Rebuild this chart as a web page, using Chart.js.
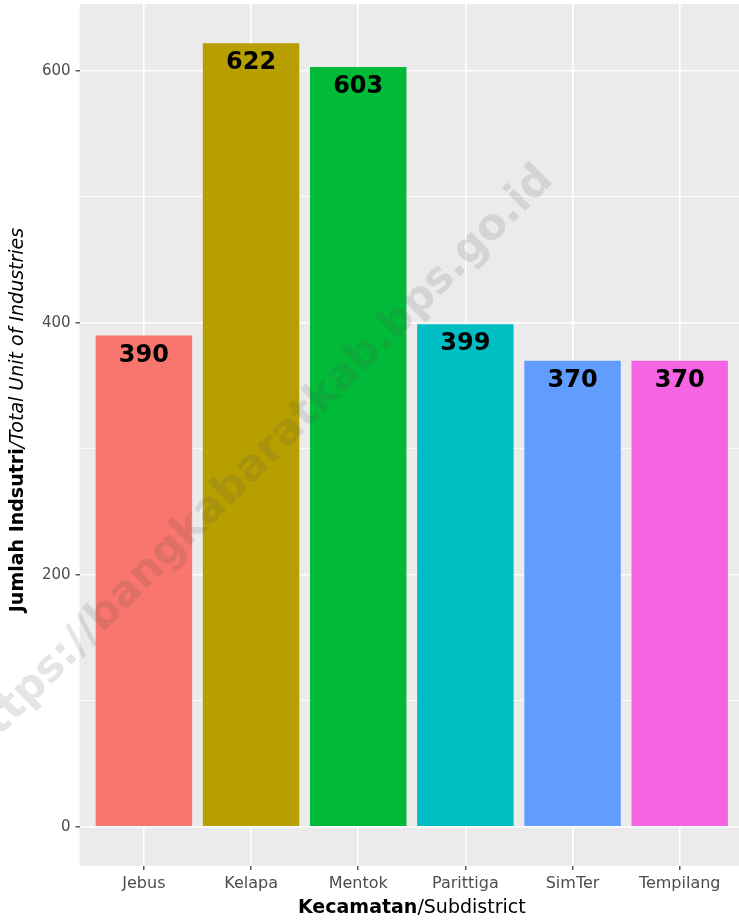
<!DOCTYPE html>
<html>
<head>
<meta charset="utf-8">
<script src="https://cdn.jsdelivr.net/npm/chart.js@4"></script>
<style>
  html, body { margin: 0; padding: 0; background: #fff; overflow: hidden; }
  #wrap { width: 750px; height: 921px; }
</style>
</head>
<body>
<div id="wrap"><canvas id="chart1" width="750" height="921"></canvas></div>
<script>
    var categories = ['Jebus', 'Kelapa', 'Mentok', 'Parittiga', 'SimTer', 'Tempilang'];
    var values = [390, 622, 603, 399, 370, 370];
    var barColors = ['#F8766D', '#B79F00', '#00BA38', '#00BFC4', '#619CFF', '#F564E3'];
    var yTicks = [0, 100, 200, 300, 400, 500, 600];
    var yLabelTicks = [0, 200, 400, 600];

    var xTitleBold = 'Kecamatan';
    var xTitleRest = '/Subdistrict';
    var yTitleBold = 'Jumlah Indsutri';
    var yTitleRest = '/Total Unit of Industries';
    var watermark = 'https://bangkabaratkab.bps.go.id';

    var font = '"DejaVu Sans", sans-serif';

    // ggplot style extras: grey panel, labels inside bars, axis titles, watermark
    var ggPlugin = {
      id: 'gg',
      beforeDraw: function (chart) {
        var a = chart.chartArea, ctx = chart.ctx;
        ctx.save();
        ctx.fillStyle = '#EBEBEB';
        ctx.fillRect(a.left, a.top, a.right - a.left, a.bottom - a.top);
        ctx.restore();
      },
      afterDatasetsDraw: function (chart) {
        var ctx = chart.ctx;
        var meta = chart.getDatasetMeta(0);
        ctx.save();
        ctx.fillStyle = '#000';
        ctx.font = 'bold 24px ' + font;
        ctx.textAlign = 'center';
        ctx.textBaseline = 'middle';
        meta.data.forEach(function (bar, i) {
          ctx.fillText(String(values[i]), bar.x, bar.y + 20);
        });
        ctx.restore();
      },
      afterDraw: function (chart) {
        var a = chart.chartArea, ctx = chart.ctx;
        ctx.save();
        ctx.fillStyle = '#000';
        ctx.textBaseline = 'middle';

        // x title
        ctx.font = 'bold 19px ' + font;
        var w1 = ctx.measureText(xTitleBold).width;
        ctx.font = '19px ' + font;
        var w2 = ctx.measureText(xTitleRest).width;
        var cx = (a.left + a.right) / 2;
        var x0 = cx - (w1 + w2) / 2;
        ctx.textAlign = 'left';
        ctx.font = 'bold 19px ' + font;
        ctx.fillText(xTitleBold, x0, 908);
        ctx.font = '19px ' + font;
        ctx.fillText(xTitleRest, x0 + w1, 908);

        // y title
        ctx.save();
        ctx.translate(18, 420);
        ctx.rotate(-Math.PI / 2);
        ctx.font = 'bold 19px ' + font;
        w1 = ctx.measureText(yTitleBold).width;
        ctx.font = 'italic 19px ' + font;
        w2 = ctx.measureText(yTitleRest).width;
        x0 = -(w1 + w2) / 2;
        ctx.font = 'bold 19px ' + font;
        ctx.fillText(yTitleBold, x0, 0);
        ctx.font = 'italic 19px ' + font;
        ctx.fillText(yTitleRest, x0 + w1, 0);
        ctx.restore();

        // watermark
        ctx.translate(258, 462);
        ctx.rotate(-Math.PI / 4);
        ctx.font = 'bold 43px ' + font;
        ctx.textAlign = 'center';
        ctx.fillStyle = 'rgba(80,80,80,0.15)';
        ctx.fillText(watermark, 0, 0);
        ctx.restore();
      }
    };

    var chartData = {
      datasets: [
        {
          data: values.map(function (v, i) { return { x: i, y: v }; }),
          backgroundColor: barColors,
          borderWidth: 0,
          barPercentage: 0.9,
          categoryPercentage: 1.0
        }
      ]
    };

    var chartOptions = {
      responsive: false,
      animation: false,
      devicePixelRatio: 1,
      layout: { padding: { top: 4, right: 6, left: 0, bottom: 0 } },
      plugins: {
        legend: { display: false },
        tooltip: { enabled: false }
      },
      scales: {
        x: {
          type: 'linear',
          min: -0.6,
          max: 5.6,
          offset: false,
          afterBuildTicks: function (scale) {
            scale.ticks = categories.map(function (c, i) { return { value: i }; });
          },
          afterFit: function (scale) {
            scale.height = 55;
            scale.paddingLeft = 0;
            scale.paddingRight = 0;
          },
          border: { display: false },
          grid: {
            offset: false,
            color: '#FFFFFF',
            lineWidth: 1.6,
            tickColor: '#333333',
            tickLength: 4,
            tickWidth: 1.2
          },
          ticks: {
            autoSkip: false,
            maxRotation: 0,
            padding: 4,
            color: '#4D4D4D',
            font: { family: font, size: 16 },
            callback: function (v) { return categories[v]; }
          }
        },
        y: {
          min: -31.1,
          max: 653.1,
          afterBuildTicks: function (scale) {
            scale.ticks = yTicks.map(function (v) { return { value: v }; });
          },
          afterFit: function (scale) {
            scale.width = 79.6;
            scale.paddingTop = 0;
            scale.paddingBottom = 0;
          },
          border: { display: false },
          grid: {
            color: '#FFFFFF',
            lineWidth: function (c) { return c.tick && yLabelTicks.indexOf(c.tick.value) >= 0 ? 1.6 : 0.8; },
            tickColor: function (c) { return c.tick && yLabelTicks.indexOf(c.tick.value) >= 0 ? '#333333' : 'rgba(0,0,0,0)'; },
            tickLength: 4,
            tickWidth: 1.2
          },
          ticks: {
            padding: 5,
            color: '#4D4D4D',
            font: { family: font, size: 15 },
            callback: function (v) { return yLabelTicks.indexOf(v) >= 0 ? String(v) : ''; }
          }
        }
      }
    };

    var ctx = document.getElementById('chart1').getContext('2d');
    new Chart(ctx, {
      type: 'bar',
      data: chartData,
      options: chartOptions,
      plugins: [ggPlugin]
    });
</script>
</body>
</html>
